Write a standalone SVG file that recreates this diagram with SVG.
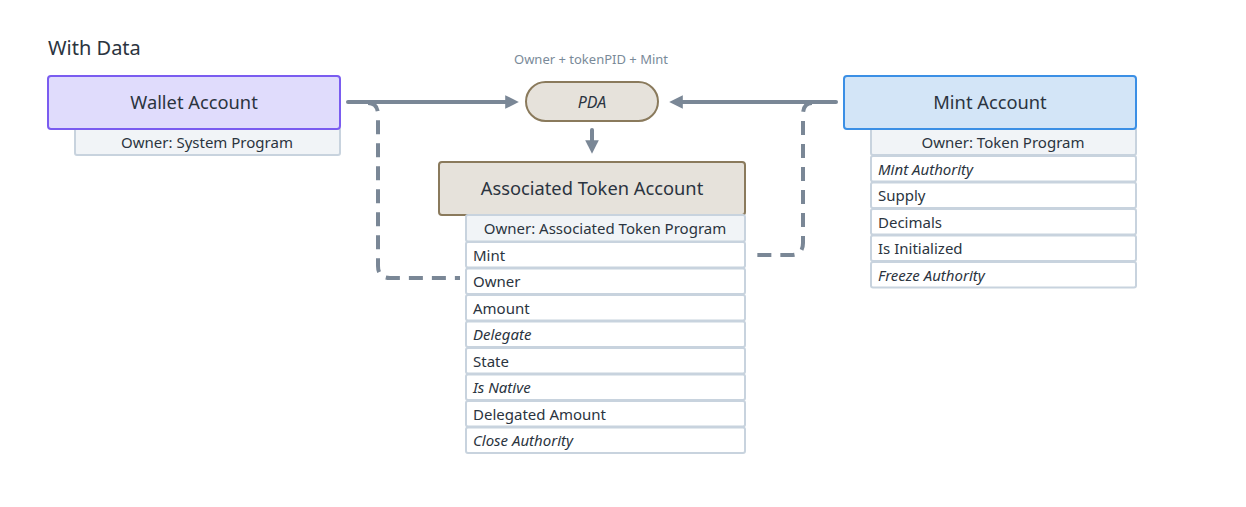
<svg xmlns="http://www.w3.org/2000/svg" width="1246" height="507" viewBox="0 0 1246 507">
<defs>
<marker id="ah" viewBox="0 0 10 10" refX="5" refY="5" markerWidth="3.4" markerHeight="3.4" orient="auto" markerUnits="strokeWidth">
<path d="M0,0 L10,5 L0,10 z" fill="#7a8796"/>
</marker>
<style>
text{font-family:"Noto Sans","DejaVu Sans",sans-serif;fill:#2b3440}
.h{font-size:18.3px;text-anchor:middle}
.o{font-size:15px;text-anchor:middle}
.r{font-size:15px}
.i{font-style:italic}
.hdrW{fill:#e0dcfc;stroke:#7a5cf0;stroke-width:2}
.hdrM{fill:#d3e5f7;stroke:#3b8fe5;stroke-width:2}
.hdrA{fill:#e6e2db;stroke:#8a7a5c;stroke-width:2}
.own{fill:#f1f4f7;stroke:#c8d3de;stroke-width:2}
.row{fill:#ffffff;stroke:#c8d3de;stroke-width:2}
.ln{fill:none;stroke:#7a8796;stroke-width:4;stroke-linecap:round}
.dash{fill:none;stroke:#7a8796;stroke-width:4;stroke-dasharray:14 9}
</style>
</defs>
<rect width="1246" height="507" fill="#ffffff"/>
<text x="48" y="55" style="font-size:20px">With Data</text>

<g id="connectors">
<path class="dash" d="M368,103 Q378,103 378,115 V266 Q378,278 390,278 H460"/>
<path class="dash" d="M812,103 Q803,103 803,115 V243 Q803,255 791,255 H752"/>
<path class="ln" d="M348,102 H512" marker-end="url(#ah)"/>
<path class="ln" d="M836,102 H676" marker-end="url(#ah)"/>
<path class="ln" d="M592,130 V147" marker-end="url(#ah)"/>
</g>

<g id="wallet">
<rect class="own" x="75" y="128" width="265" height="27" rx="2"/>
<rect class="hdrW" x="48" y="76" width="292" height="53" rx="3"/>
<text class="h" x="194" y="109">Wallet Account</text>
<text class="o" x="207" y="148">Owner: System Program</text>
</g>

<g id="pda">
<text x="591" y="64" style="font-size:13px;text-anchor:middle;fill:#7a8a99">Owner + tokenPID + Mint</text>
<rect class="hdrA" x="526" y="82" width="132" height="39" rx="19.5"/>
<text class="i" x="592" y="107.5" style="font-size:16px;text-anchor:middle">PDA</text>
</g>

<g id="ata">
<rect class="hdrA" x="439" y="162" width="306" height="53" rx="3"/>
<text class="h" x="592" y="195">Associated Token Account</text>
<rect class="own" x="466" y="215" width="279" height="26.5" rx="2"/>
<text class="o" x="605" y="234">Owner: Associated Token Program</text>
<rect class="row" x="466" y="242" width="279" height="25.5" rx="2"/>
<text class="r" x="473" y="261">Mint</text>
<rect class="row" x="466" y="268.5" width="279" height="25.5" rx="2"/>
<text class="r" x="473" y="287">Owner</text>
<rect class="row" x="466" y="295" width="279" height="25.5" rx="2"/>
<text class="r" x="473" y="314">Amount</text>
<rect class="row" x="466" y="321.5" width="279" height="25.5" rx="2"/>
<text class="r i" x="473" y="340">Delegate</text>
<rect class="row" x="466" y="348" width="279" height="25.5" rx="2"/>
<text class="r" x="473" y="367">State</text>
<rect class="row" x="466" y="374.5" width="279" height="25.5" rx="2"/>
<text class="r i" x="473" y="393">Is Native</text>
<rect class="row" x="466" y="401" width="279" height="25.5" rx="2"/>
<text class="r" x="473" y="420">Delegated Amount</text>
<rect class="row" x="466" y="427.5" width="279" height="25.5" rx="2"/>
<text class="r i" x="473" y="446">Close Authority</text>
</g>

<g id="mint">
<rect class="own" x="871" y="128" width="265" height="27" rx="2"/>
<rect class="hdrM" x="844" y="76" width="292" height="53" rx="3"/>
<text class="h" x="990" y="109">Mint Account</text>
<text class="o" x="1003" y="148">Owner: Token Program</text>
<rect class="row" x="871" y="156" width="265" height="25.5" rx="2"/>
<text class="r i" x="878" y="175">Mint Authority</text>
<rect class="row" x="871" y="182.5" width="265" height="25.5" rx="2"/>
<text class="r" x="878" y="201">Supply</text>
<rect class="row" x="871" y="209" width="265" height="25.5" rx="2"/>
<text class="r" x="878" y="228">Decimals</text>
<rect class="row" x="871" y="235.5" width="265" height="25.5" rx="2"/>
<text class="r" x="878" y="254">Is Initialized</text>
<rect class="row" x="871" y="262" width="265" height="25.5" rx="2"/>
<text class="r i" x="878" y="281">Freeze Authority</text>
</g>
</svg>
